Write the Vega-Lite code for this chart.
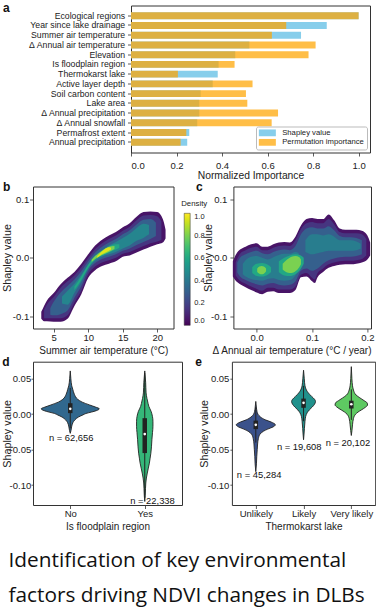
{
"$schema": "https://vega.github.io/schema/vega-lite/v6.json",
"padding": {"left": 0, "top": 1.5, "right": 0, "bottom": 4},
"background": "white",
"config": {
  "font": "Liberation Sans",
  "view": {"stroke": "#333", "strokeWidth": 1},
  "axis": {"domain": false, "grid": false, "tickColor": "#333", "tickSize": 3.5, "tickWidth": 0.8, "labelFontSize": 9.5, "labelColor": "#222", "titleFontSize": 10, "titleFontWeight": "normal", "titleColor": "#222", "labelPadding": 1, "titlePadding": 2},
  "legend": {"labelColor": "#222", "titleColor": "#222"}
},
"resolve": {"scale": {"color": "independent"}},
"columns": 1, "spacing": -1,
"title": {"text": "Identification of key environmental", "subtitle": "factors driving NDVI changes in DLBs", "orient": "bottom", "anchor": "start", "frame": "bounds", "font": "Open Sans", "fontSize": 20.8, "fontWeight": "normal", "color": "#111", "subtitleFont": "Open Sans", "subtitleFontSize": 20.8, "subtitleFontWeight": "normal", "subtitleColor": "#111", "subtitlePadding": 14, "offset": 19.5, "dx": 8},
"datasets": {
"imp": [
{"f":"Ecological regions","shap":1.0,"perm":1.0},
{"f":"Year since lake drainage","shap":0.86,"perm":0.682},
{"f":"Summer air temperature","shap":0.747,"perm":0.619},
{"f":"Δ Annual air temperature","shap":0.52,"perm":0.811},
{"f":"Elevation","shap":0.458,"perm":0.78},
{"f":"Is floodplain region","shap":0.385,"perm":0.455},
{"f":"Thermokarst lake","shap":0.381,"perm":0.206},
{"f":"Active layer depth","shap":0.359,"perm":0.534},
{"f":"Soil carbon content","shap":0.306,"perm":0.505},
{"f":"Lake area","shap":0.3,"perm":0.511},
{"f":"Δ Annual precipitation","shap":0.3,"perm":0.646},
{"f":"Δ Annual snowfall","shap":0.291,"perm":0.618},
{"f":"Permafrost extent","shap":0.256,"perm":0.243},
{"f":"Annual precipitation","shap":0.247,"perm":0.218}
],
"kdeb": [
{"g":"b0","l":0.05,"x":3.2,"lo":-0.104,"hi":-0.092},
{"g":"b0","l":0.05,"x":3.6,"lo":-0.108,"hi":-0.082},
{"g":"b0","l":0.05,"x":4,"lo":-0.108,"hi":-0.073},
{"g":"b0","l":0.05,"x":5,"lo":-0.109,"hi":-0.06},
{"g":"b0","l":0.05,"x":6,"lo":-0.109,"hi":-0.045},
{"g":"b0","l":0.05,"x":7,"lo":-0.104,"hi":-0.034},
{"g":"b0","l":0.05,"x":8,"lo":-0.082,"hi":-0.024},
{"g":"b0","l":0.05,"x":9,"lo":-0.062,"hi":-0.01},
{"g":"b0","l":0.05,"x":10,"lo":-0.034,"hi":0.006},
{"g":"b0","l":0.05,"x":11,"lo":-0.021,"hi":0.021},
{"g":"b0","l":0.05,"x":12,"lo":-0.014,"hi":0.031},
{"g":"b0","l":0.05,"x":13,"lo":-0.01,"hi":0.038},
{"g":"b0","l":0.05,"x":14,"lo":-0.006,"hi":0.044},
{"g":"b0","l":0.05,"x":15,"lo":0.002,"hi":0.052},
{"g":"b0","l":0.05,"x":16,"lo":0.004,"hi":0.059},
{"g":"b0","l":0.05,"x":17,"lo":0.009,"hi":0.07},
{"g":"b0","l":0.05,"x":18,"lo":0.014,"hi":0.078},
{"g":"b0","l":0.05,"x":19,"lo":0.019,"hi":0.079},
{"g":"b0","l":0.05,"x":20,"lo":0.023,"hi":0.078},
{"g":"b0","l":0.05,"x":20.8,"lo":0.026,"hi":0.066},
{"g":"b0","l":0.05,"x":21.2,"lo":0.033,"hi":0.048},
{"g":"b1","l":0.15,"x":3.6,"lo":-0.103,"hi":-0.089},
{"g":"b1","l":0.15,"x":4,"lo":-0.103,"hi":-0.08},
{"g":"b1","l":0.15,"x":5,"lo":-0.103,"hi":-0.067},
{"g":"b1","l":0.15,"x":6,"lo":-0.103,"hi":-0.051},
{"g":"b1","l":0.15,"x":7,"lo":-0.098,"hi":-0.04},
{"g":"b1","l":0.15,"x":8,"lo":-0.076,"hi":-0.03},
{"g":"b1","l":0.15,"x":9,"lo":-0.056,"hi":-0.016},
{"g":"b1","l":0.15,"x":10,"lo":-0.028,"hi":0.0},
{"g":"b1","l":0.15,"x":11,"lo":-0.015,"hi":0.015},
{"g":"b1","l":0.15,"x":12,"lo":-0.008,"hi":0.025},
{"g":"b1","l":0.15,"x":13,"lo":-0.004,"hi":0.032},
{"g":"b1","l":0.15,"x":14,"lo":0.0,"hi":0.038},
{"g":"b1","l":0.15,"x":15,"lo":0.007,"hi":0.046},
{"g":"b1","l":0.15,"x":16,"lo":0.01,"hi":0.053},
{"g":"b1","l":0.15,"x":17,"lo":0.015,"hi":0.064},
{"g":"b1","l":0.15,"x":18,"lo":0.02,"hi":0.072},
{"g":"b1","l":0.15,"x":19,"lo":0.025,"hi":0.073},
{"g":"b1","l":0.15,"x":20,"lo":0.028,"hi":0.071},
{"g":"b1","l":0.15,"x":20.6,"lo":0.031,"hi":0.062},
{"g":"b2","l":0.3,"x":4.5,"lo":-0.097,"hi":-0.086},
{"g":"b2","l":0.3,"x":5,"lo":-0.098,"hi":-0.075},
{"g":"b2","l":0.3,"x":6,"lo":-0.096,"hi":-0.059},
{"g":"b2","l":0.3,"x":7,"lo":-0.09,"hi":-0.048},
{"g":"b2","l":0.3,"x":8,"lo":-0.068,"hi":-0.037},
{"g":"b2","l":0.3,"x":9,"lo":-0.048,"hi":-0.023},
{"g":"b2","l":0.3,"x":10,"lo":-0.022,"hi":-0.006},
{"g":"b2","l":0.3,"x":11,"lo":-0.009,"hi":0.009},
{"g":"b2","l":0.3,"x":12,"lo":-0.002,"hi":0.019},
{"g":"b2","l":0.3,"x":13,"lo":0.002,"hi":0.026},
{"g":"b2","l":0.3,"x":14,"lo":0.006,"hi":0.032},
{"g":"b2","l":0.3,"x":15,"lo":0.012,"hi":0.04},
{"g":"b2","l":0.3,"x":16,"lo":0.016,"hi":0.047},
{"g":"b2","l":0.3,"x":17,"lo":0.022,"hi":0.057},
{"g":"b2","l":0.3,"x":18,"lo":0.027,"hi":0.065},
{"g":"b2","l":0.3,"x":19,"lo":0.032,"hi":0.066},
{"g":"b2","l":0.3,"x":19.8,"lo":0.037,"hi":0.06},
{"g":"b3","l":0.45,"x":6.2,"lo":-0.078,"hi":-0.066},
{"g":"b3","l":0.45,"x":7,"lo":-0.08,"hi":-0.056},
{"g":"b3","l":0.45,"x":8,"lo":-0.06,"hi":-0.044},
{"g":"b3","l":0.45,"x":9,"lo":-0.041,"hi":-0.029},
{"g":"b3","l":0.45,"x":10,"lo":-0.018,"hi":-0.011},
{"g":"b3","l":0.45,"x":11,"lo":-0.005,"hi":0.004},
{"g":"b3","l":0.45,"x":12,"lo":0.002,"hi":0.013},
{"g":"b3","l":0.45,"x":13,"lo":0.006,"hi":0.021},
{"g":"b3","l":0.45,"x":14,"lo":0.01,"hi":0.027},
{"g":"b3","l":0.45,"x":15,"lo":0.016,"hi":0.034},
{"g":"b3","l":0.45,"x":16,"lo":0.021,"hi":0.041},
{"g":"b3","l":0.45,"x":17,"lo":0.029,"hi":0.051},
{"g":"b3","l":0.45,"x":18,"lo":0.034,"hi":0.058},
{"g":"b3","l":0.45,"x":18.8,"lo":0.04,"hi":0.056},
{"g":"b4","l":0.6,"x":8,"lo":-0.055,"hi":-0.049},
{"g":"b4","l":0.6,"x":9,"lo":-0.038,"hi":-0.032},
{"g":"b4","l":0.6,"x":10,"lo":-0.017,"hi":-0.012},
{"g":"b4","l":0.6,"x":11,"lo":-0.003,"hi":0.003},
{"g":"b4","l":0.6,"x":12,"lo":0.004,"hi":0.012},
{"g":"b4","l":0.6,"x":13,"lo":0.009,"hi":0.019},
{"g":"b4","l":0.6,"x":14,"lo":0.014,"hi":0.023},
{"g":"b4","l":0.6,"x":14.5,"lo":0.017,"hi":0.023},
{"g":"b5","l":0.8,"x":10.5,"lo":-0.007,"hi":-0.003},
{"g":"b5","l":0.8,"x":11,"lo":-0.002,"hi":0.003},
{"g":"b5","l":0.8,"x":12,"lo":0.005,"hi":0.012},
{"g":"b5","l":0.8,"x":13,"lo":0.01,"hi":0.019},
{"g":"b5","l":0.8,"x":13.8,"lo":0.015,"hi":0.02},
{"g":"b6","l":0.95,"x":11.3,"lo":0.0,"hi":0.003},
{"g":"b6","l":0.95,"x":12,"lo":0.006,"hi":0.011},
{"g":"b6","l":0.95,"x":13,"lo":0.012,"hi":0.018},
{"g":"b6","l":0.95,"x":13.3,"lo":0.014,"hi":0.017}
],
"kdec": [
{"g":"c0","l":0.05,"x":-0.043,"lo":-0.032,"hi":-0.006},
{"g":"c0","l":0.05,"x":-0.036,"lo":-0.041,"hi":0.008},
{"g":"c0","l":0.05,"x":-0.03,"lo":-0.045,"hi":0.014},
{"g":"c0","l":0.05,"x":-0.02,"lo":-0.05,"hi":0.019},
{"g":"c0","l":0.05,"x":-0.01,"lo":-0.055,"hi":0.023},
{"g":"c0","l":0.05,"x":0.0,"lo":-0.059,"hi":0.025},
{"g":"c0","l":0.05,"x":0.01,"lo":-0.062,"hi":0.019},
{"g":"c0","l":0.05,"x":0.02,"lo":-0.058,"hi":0.019},
{"g":"c0","l":0.05,"x":0.03,"lo":-0.057,"hi":0.023},
{"g":"c0","l":0.05,"x":0.04,"lo":-0.06,"hi":0.026},
{"g":"c0","l":0.05,"x":0.05,"lo":-0.06,"hi":0.027},
{"g":"c0","l":0.05,"x":0.06,"lo":-0.06,"hi":0.026},
{"g":"c0","l":0.05,"x":0.07,"lo":-0.055,"hi":0.036},
{"g":"c0","l":0.05,"x":0.08,"lo":-0.033,"hi":0.055},
{"g":"c0","l":0.05,"x":0.09,"lo":-0.032,"hi":0.066},
{"g":"c0","l":0.05,"x":0.1,"lo":-0.04,"hi":0.068},
{"g":"c0","l":0.05,"x":0.105,"lo":-0.043,"hi":0.067},
{"g":"c0","l":0.05,"x":0.11,"lo":-0.033,"hi":0.066},
{"g":"c0","l":0.05,"x":0.12,"lo":-0.024,"hi":0.066},
{"g":"c0","l":0.05,"x":0.13,"lo":-0.017,"hi":0.074},
{"g":"c0","l":0.05,"x":0.14,"lo":-0.014,"hi":0.064},
{"g":"c0","l":0.05,"x":0.15,"lo":-0.012,"hi":0.05},
{"g":"c0","l":0.05,"x":0.16,"lo":-0.011,"hi":0.048},
{"g":"c0","l":0.05,"x":0.17,"lo":-0.011,"hi":0.048},
{"g":"c0","l":0.05,"x":0.18,"lo":-0.01,"hi":0.048},
{"g":"c0","l":0.05,"x":0.19,"lo":-0.008,"hi":0.046},
{"g":"c0","l":0.05,"x":0.2,"lo":-0.003,"hi":0.038},
{"g":"c0","l":0.05,"x":0.205,"lo":0.004,"hi":0.026},
{"g":"c1","l":0.15,"x":-0.038,"lo":-0.03,"hi":-0.008},
{"g":"c1","l":0.15,"x":-0.03,"lo":-0.039,"hi":0.007},
{"g":"c1","l":0.15,"x":-0.02,"lo":-0.044,"hi":0.013},
{"g":"c1","l":0.15,"x":-0.01,"lo":-0.049,"hi":0.017},
{"g":"c1","l":0.15,"x":0.0,"lo":-0.053,"hi":0.019},
{"g":"c1","l":0.15,"x":0.01,"lo":-0.056,"hi":0.013},
{"g":"c1","l":0.15,"x":0.02,"lo":-0.051,"hi":0.013},
{"g":"c1","l":0.15,"x":0.03,"lo":-0.051,"hi":0.017},
{"g":"c1","l":0.15,"x":0.04,"lo":-0.054,"hi":0.02},
{"g":"c1","l":0.15,"x":0.05,"lo":-0.054,"hi":0.021},
{"g":"c1","l":0.15,"x":0.06,"lo":-0.054,"hi":0.02},
{"g":"c1","l":0.15,"x":0.07,"lo":-0.049,"hi":0.03},
{"g":"c1","l":0.15,"x":0.08,"lo":-0.029,"hi":0.049},
{"g":"c1","l":0.15,"x":0.09,"lo":-0.026,"hi":0.059},
{"g":"c1","l":0.15,"x":0.1,"lo":-0.034,"hi":0.061},
{"g":"c1","l":0.15,"x":0.105,"lo":-0.037,"hi":0.06},
{"g":"c1","l":0.15,"x":0.11,"lo":-0.026,"hi":0.059},
{"g":"c1","l":0.15,"x":0.12,"lo":-0.018,"hi":0.059},
{"g":"c1","l":0.15,"x":0.13,"lo":-0.011,"hi":0.066},
{"g":"c1","l":0.15,"x":0.14,"lo":-0.008,"hi":0.057},
{"g":"c1","l":0.15,"x":0.15,"lo":-0.006,"hi":0.044},
{"g":"c1","l":0.15,"x":0.16,"lo":-0.005,"hi":0.042},
{"g":"c1","l":0.15,"x":0.17,"lo":-0.005,"hi":0.042},
{"g":"c1","l":0.15,"x":0.18,"lo":-0.004,"hi":0.042},
{"g":"c1","l":0.15,"x":0.19,"lo":-0.002,"hi":0.04},
{"g":"c1","l":0.15,"x":0.198,"lo":0.004,"hi":0.032},
{"g":"c2","l":0.3,"x":-0.035,"lo":-0.025,"hi":-0.008},
{"g":"c2","l":0.3,"x":-0.03,"lo":-0.032,"hi":0.0},
{"g":"c2","l":0.3,"x":-0.02,"lo":-0.038,"hi":0.006},
{"g":"c2","l":0.3,"x":-0.01,"lo":-0.042,"hi":0.01},
{"g":"c2","l":0.3,"x":0.0,"lo":-0.045,"hi":0.012},
{"g":"c2","l":0.3,"x":0.01,"lo":-0.047,"hi":0.008},
{"g":"c2","l":0.3,"x":0.02,"lo":-0.044,"hi":0.006},
{"g":"c2","l":0.3,"x":0.03,"lo":-0.043,"hi":0.01},
{"g":"c2","l":0.3,"x":0.04,"lo":-0.046,"hi":0.013},
{"g":"c2","l":0.3,"x":0.05,"lo":-0.047,"hi":0.014},
{"g":"c2","l":0.3,"x":0.06,"lo":-0.046,"hi":0.013},
{"g":"c2","l":0.3,"x":0.07,"lo":-0.04,"hi":0.02},
{"g":"c2","l":0.3,"x":0.08,"lo":-0.022,"hi":0.04},
{"g":"c2","l":0.3,"x":0.09,"lo":-0.018,"hi":0.05},
{"g":"c2","l":0.3,"x":0.1,"lo":-0.022,"hi":0.052},
{"g":"c2","l":0.3,"x":0.11,"lo":-0.018,"hi":0.05},
{"g":"c2","l":0.3,"x":0.12,"lo":-0.01,"hi":0.05},
{"g":"c2","l":0.3,"x":0.13,"lo":-0.004,"hi":0.054},
{"g":"c2","l":0.3,"x":0.14,"lo":-0.001,"hi":0.047},
{"g":"c2","l":0.3,"x":0.15,"lo":0.001,"hi":0.037},
{"g":"c2","l":0.3,"x":0.16,"lo":0.002,"hi":0.035},
{"g":"c2","l":0.3,"x":0.17,"lo":0.002,"hi":0.035},
{"g":"c2","l":0.3,"x":0.18,"lo":0.003,"hi":0.034},
{"g":"c2","l":0.3,"x":0.19,"lo":0.006,"hi":0.03},
{"g":"c3a","l":0.42,"x":-0.025,"lo":-0.028,"hi":-0.01},
{"g":"c3a","l":0.42,"x":-0.02,"lo":-0.032,"hi":-0.004},
{"g":"c3a","l":0.42,"x":-0.01,"lo":-0.036,"hi":0.002},
{"g":"c3a","l":0.42,"x":0.0,"lo":-0.038,"hi":0.003},
{"g":"c3a","l":0.42,"x":0.01,"lo":-0.039,"hi":0.0},
{"g":"c3a","l":0.42,"x":0.02,"lo":-0.036,"hi":-0.003},
{"g":"c3a","l":0.42,"x":0.03,"lo":-0.035,"hi":0.001},
{"g":"c3a","l":0.42,"x":0.04,"lo":-0.038,"hi":0.005},
{"g":"c3a","l":0.42,"x":0.05,"lo":-0.039,"hi":0.007},
{"g":"c3a","l":0.42,"x":0.06,"lo":-0.038,"hi":0.007},
{"g":"c3a","l":0.42,"x":0.07,"lo":-0.03,"hi":0.01},
{"g":"c3a","l":0.42,"x":0.076,"lo":-0.02,"hi":0.008},
{"g":"c3b","l":0.42,"x":0.088,"lo":0.01,"hi":0.03},
{"g":"c3b","l":0.42,"x":0.1,"lo":0.006,"hi":0.04},
{"g":"c3b","l":0.42,"x":0.11,"lo":0.008,"hi":0.04},
{"g":"c3b","l":0.42,"x":0.12,"lo":0.01,"hi":0.038},
{"g":"c3b","l":0.42,"x":0.13,"lo":0.012,"hi":0.04},
{"g":"c3b","l":0.42,"x":0.14,"lo":0.012,"hi":0.036},
{"g":"c3b","l":0.42,"x":0.15,"lo":0.012,"hi":0.03},
{"g":"c3b","l":0.42,"x":0.16,"lo":0.012,"hi":0.03},
{"g":"c3b","l":0.42,"x":0.17,"lo":0.012,"hi":0.03},
{"g":"c3b","l":0.42,"x":0.18,"lo":0.013,"hi":0.028},
{"g":"c3b","l":0.42,"x":0.188,"lo":0.016,"hi":0.024},
{"g":"c4a","l":0.6,"x":-0.008,"lo":-0.026,"hi":-0.016},
{"g":"c4a","l":0.6,"x":0.0,"lo":-0.031,"hi":-0.01},
{"g":"c4a","l":0.6,"x":0.01,"lo":-0.032,"hi":-0.009},
{"g":"c4a","l":0.6,"x":0.02,"lo":-0.029,"hi":-0.012},
{"g":"c4a","l":0.6,"x":0.026,"lo":-0.024,"hi":-0.016},
{"g":"c4b","l":0.6,"x":0.04,"lo":-0.024,"hi":-0.006},
{"g":"c4b","l":0.6,"x":0.05,"lo":-0.03,"hi":0.0},
{"g":"c4b","l":0.6,"x":0.06,"lo":-0.031,"hi":0.004},
{"g":"c4b","l":0.6,"x":0.07,"lo":-0.028,"hi":0.006},
{"g":"c4b","l":0.6,"x":0.08,"lo":-0.018,"hi":0.004},
{"g":"c4b","l":0.6,"x":0.085,"lo":-0.01,"hi":0.0},
{"g":"c5a","l":0.8,"x":0.001,"lo":-0.024,"hi":-0.018},
{"g":"c5a","l":0.8,"x":0.005,"lo":-0.027,"hi":-0.015},
{"g":"c5a","l":0.8,"x":0.009,"lo":-0.028,"hi":-0.014},
{"g":"c5a","l":0.8,"x":0.013,"lo":-0.027,"hi":-0.015},
{"g":"c5a","l":0.8,"x":0.017,"lo":-0.023,"hi":-0.018},
{"g":"c5b","l":0.8,"x":0.047,"lo":-0.02,"hi":-0.01},
{"g":"c5b","l":0.8,"x":0.055,"lo":-0.025,"hi":-0.003},
{"g":"c5b","l":0.8,"x":0.063,"lo":-0.026,"hi":0.002},
{"g":"c5b","l":0.8,"x":0.07,"lo":-0.023,"hi":0.003},
{"g":"c5b","l":0.8,"x":0.077,"lo":-0.016,"hi":0.001},
{"g":"c5b","l":0.8,"x":0.08,"lo":-0.011,"hi":-0.003}
],
"vd": [
{"c":"No","v":0.061,"w":0},{"c":"No","v":0.05,"w":0.008},{"c":"No","v":0.04,"w":0.02},{"c":"No","v":0.035,"w":0.034},{"c":"No","v":0.028,"w":0.055},{"c":"No","v":0.021,"w":0.1},{"c":"No","v":0.017,"w":0.16},{"c":"No","v":0.013,"w":0.26},{"c":"No","v":0.01,"w":0.34},{"c":"No","v":0.0076,"w":0.39},{"c":"No","v":0.005,"w":0.35},{"c":"No","v":0.003,"w":0.285},{"c":"No","v":0.001,"w":0.21},{"c":"No","v":-0.001,"w":0.17},{"c":"No","v":-0.004,"w":0.11},{"c":"No","v":-0.008,"w":0.062},{"c":"No","v":-0.012,"w":0.035},{"c":"No","v":-0.018,"w":0.018},{"c":"No","v":-0.023,"w":0.01},{"c":"No","v":-0.027,"w":0},
{"c":"Yes","v":0.061,"w":0},{"c":"Yes","v":0.045,"w":0.012},{"c":"Yes","v":0.03,"w":0.018},{"c":"Yes","v":0.022,"w":0.03},{"c":"Yes","v":0.015,"w":0.045},{"c":"Yes","v":0.011,"w":0.055},{"c":"Yes","v":0.004,"w":0.085},{"c":"Yes","v":-0.003,"w":0.103},{"c":"Yes","v":-0.01,"w":0.11},{"c":"Yes","v":-0.017,"w":0.11},{"c":"Yes","v":-0.026,"w":0.104},{"c":"Yes","v":-0.036,"w":0.096},{"c":"Yes","v":-0.046,"w":0.09},{"c":"Yes","v":-0.055,"w":0.082},{"c":"Yes","v":-0.062,"w":0.072},{"c":"Yes","v":-0.069,"w":0.062},{"c":"Yes","v":-0.076,"w":0.048},{"c":"Yes","v":-0.083,"w":0.034},{"c":"Yes","v":-0.09,"w":0.022},{"c":"Yes","v":-0.097,"w":0.014},{"c":"Yes","v":-0.105,"w":0.01},{"c":"Yes","v":-0.115,"w":0.006},{"c":"Yes","v":-0.123,"w":0}
],
"ve": [
{"c":"Unlikely","v":0.018,"w":0},{"c":"Unlikely","v":0.01,"w":0.012},{"c":"Unlikely","v":0.004,"w":0.025},{"c":"Unlikely","v":0.0,"w":0.045},{"c":"Unlikely","v":-0.004,"w":0.1},{"c":"Unlikely","v":-0.008,"w":0.2},{"c":"Unlikely","v":-0.011,"w":0.32},{"c":"Unlikely","v":-0.015,"w":0.41},{"c":"Unlikely","v":-0.018,"w":0.36},{"c":"Unlikely","v":-0.021,"w":0.25},{"c":"Unlikely","v":-0.024,"w":0.16},{"c":"Unlikely","v":-0.028,"w":0.09},{"c":"Unlikely","v":-0.034,"w":0.055},{"c":"Unlikely","v":-0.042,"w":0.038},{"c":"Unlikely","v":-0.05,"w":0.03},{"c":"Unlikely","v":-0.06,"w":0.02},{"c":"Unlikely","v":-0.07,"w":0.014},{"c":"Unlikely","v":-0.081,"w":0},
{"c":"Likely","v":0.062,"w":0},{"c":"Likely","v":0.05,"w":0.015},{"c":"Likely","v":0.04,"w":0.03},{"c":"Likely","v":0.034,"w":0.06},{"c":"Likely","v":0.03,"w":0.1},{"c":"Likely","v":0.025,"w":0.17},{"c":"Likely","v":0.021,"w":0.23},{"c":"Likely","v":0.018,"w":0.25},{"c":"Likely","v":0.014,"w":0.23},{"c":"Likely","v":0.01,"w":0.18},{"c":"Likely","v":0.006,"w":0.12},{"c":"Likely","v":0.002,"w":0.075},{"c":"Likely","v":-0.003,"w":0.045},{"c":"Likely","v":-0.01,"w":0.03},{"c":"Likely","v":-0.02,"w":0.018},{"c":"Likely","v":-0.028,"w":0.01},{"c":"Likely","v":-0.036,"w":0},
{"c":"Very likely","v":0.067,"w":0},{"c":"Very likely","v":0.05,"w":0.012},{"c":"Very likely","v":0.04,"w":0.025},{"c":"Very likely","v":0.034,"w":0.045},{"c":"Very likely","v":0.027,"w":0.1},{"c":"Very likely","v":0.023,"w":0.18},{"c":"Very likely","v":0.019,"w":0.27},{"c":"Very likely","v":0.016,"w":0.33},{"c":"Very likely","v":0.013,"w":0.34},{"c":"Very likely","v":0.01,"w":0.3},{"c":"Very likely","v":0.006,"w":0.21},{"c":"Very likely","v":0.003,"w":0.14},{"c":"Very likely","v":0.0,"w":0.09},{"c":"Very likely","v":-0.006,"w":0.045},{"c":"Very likely","v":-0.015,"w":0.025},{"c":"Very likely","v":-0.023,"w":0.013},{"c":"Very likely","v":-0.03,"w":0}
],
"bd": [
{"c":"No","wlo":-0.02,"whi":0.037,"q1":0.0015,"q3":0.0155,"med":0.0076},
{"c":"Yes","wlo":-0.118,"whi":0.058,"q1":-0.0548,"q3":-0.0056,"med":-0.028}
],
"be": [
{"c":"Unlikely","wlo":-0.04,"whi":0.01,"q1":-0.021,"q3":-0.009,"med":-0.015},
{"c":"Likely","wlo":-0.01,"whi":0.04,"q1":0.009,"q3":0.022,"med":0.016},
{"c":"Very likely","wlo":-0.008,"whi":0.035,"q1":0.008,"q3":0.019,"med":0.014}
],
"nd": [
{"t":"n = 62,656","x":0.013,"y":-0.0336},
{"t":"n = 22,338","x":1.104,"y":-0.1225}
],
"ne": [
{"t":"n = 45,284","x":0.07,"y":-0.086},
{"t":"n = 19,608","x":0.91,"y":-0.046},
{"t":"n = 20,102","x":1.93,"y":-0.041}
]
},
"concat": [
{
 "hconcat": [
  {
   "width": 92.2, "height": 147,
   "view": {"stroke": null},
   "data": {"name": "imp"},
   "layer": [
    {"mark": {"type": "text", "align": "right", "baseline": "middle", "fontSize": 8.7, "color": "#222"},
     "encoding": {
      "y": {"field": "f", "type": "nominal", "sort": null, "scale": {"type": "band", "paddingInner": 0.29, "paddingOuter": 0.7}, "axis": null},
      "x": {"datum": 1, "type": "quantitative", "scale": {"domain": [0, 1], "nice": false}, "axis": null},
      "text": {"field": "f"}}},
    {"data": {"values": [{"p": "a"}]},
     "mark": {"type": "text", "fontSize": 12, "fontWeight": "bold", "color": "#111", "align": "left", "baseline": "alphabetic"},
     "encoding": {"text": {"field": "p"}, "x": {"datum": -0.326}, "y": {"datum": "Ecological regions", "type": "nominal", "bandPosition": 0}}}
   ]
  },
  {
   "width": 239, "height": 147,
   "data": {"name": "imp"},
   "encoding": {"y": {"field": "f", "type": "nominal", "sort": null, "scale": {"type": "band", "paddingInner": 0.29, "paddingOuter": 0.7}, "axis": {"title": null, "labels": false}}},
   "layer": [
    {"mark": {"type": "bar"}, "encoding": {
      "x": {"field": "shap", "type": "quantitative", "scale": {"domain": [0, 1.05], "nice": false}, "axis": {"values": [0, 0.2, 0.4, 0.6, 0.8, 1], "format": ".1f", "title": "Normalized Importance", "labelPadding": 4.5, "titlePadding": 0, "titleFontSize": 10.3}},
      "color": {"datum": "Shapley value", "type": "nominal", "scale": {"domain": ["Shapley value", "Permutation importance"], "range": ["#87CEEB", "rgba(255,165,0,0.72)"]},
        "legend": {"title": null, "orient": "bottom-right", "offset": 3, "fillColor": "white", "strokeColor": "#bbb", "cornerRadius": 2, "padding": 2.5, "labelFontSize": 7.7, "symbolType": "M-1,-0.97H3.86V0.97H-1Z", "symbolSize": 49, "symbolStrokeWidth": 0, "rowPadding": 0.5, "labelOffset": 16}}}},
    {"mark": {"type": "bar"}, "encoding": {
      "x": {"field": "perm", "type": "quantitative"},
      "color": {"datum": "Permutation importance", "type": "nominal"}}}
   ]
  }
 ],
 "spacing": 5, "bounds": "flush",
 "resolve": {"scale": {"color": "independent"}, "legend": {"color": "independent"}}
},
{
 "columns": 1, "spacing": -1.8,
 "resolve": {"scale": {"color": "independent"}},
 "concat": [
 {
 "hconcat": [
  {
   "width": 140.5, "height": 142,
   "layer": [
    {"data": {"name": "kdeb"},
     "mark": {"type": "area", "interpolate": "monotone"},
     "encoding": {
      "x": {"field": "x", "type": "quantitative", "scale": {"domain": [2.0, 22.35], "nice": false, "zero": false}, "axis": {"values": [5, 10, 15, 20], "title": "Summer air temperature (°C)", "labelPadding": 0.1, "titlePadding": 4}},
      "y": {"field": "lo", "type": "quantitative", "scale": {"domain": [-0.1205, 0.1216], "nice": false, "zero": false}, "axis": {"values": [-0.1, -0.05, 0, 0.05, 0.1], "labelExpr": "abs(datum.value) == 0.05 ? '' : replace(format(datum.value, '.1f'), '\u2212', '-')", "title": "Shapley value", "titleFontSize": 10.8, "labelPadding": 0.8, "titlePadding": 0.3}},
      "y2": {"field": "hi"},
      "color": {"field": "l", "type": "quantitative", "scale": {"scheme": "viridis", "domain": [0, 1]},
        "legend": {"title": "Density", "orient": "none", "legendX": 148.2, "legendY": 13, "gradientLength": 112, "gradientThickness": 6, "values": [0, 0.2, 0.4, 0.6, 0.8, 1], "format": ".1f", "labelFontSize": 7.5, "titleFontSize": 7.8, "titleFontWeight": "normal", "titlePadding": 6, "padding": 0, "gradientStrokeColor": "#333", "gradientStrokeWidth": 0.5, "labelOffset": 4, "direction": "vertical", "labelOverlap": false, "titleAnchor": "middle"}},
      "detail": {"field": "g"}
     }},
    {"data": {"values": [{"p": "b"}]},
     "mark": {"type": "text", "fontSize": 12, "fontWeight": "bold", "color": "#111", "align": "left", "baseline": "alphabetic"},
     "encoding": {"text": {"field": "p"}, "x": {"datum": -2.35}, "y": {"datum": 0.1131}}}
   ]
  },
  {
   "width": 137.6, "height": 142,
   "layer": [
    {"data": {"name": "kdec"},
     "mark": {"type": "area", "interpolate": "monotone"},
     "encoding": {
      "x": {"field": "x", "type": "quantitative", "scale": {"domain": [-0.042, 0.2065], "nice": false, "zero": false}, "axis": {"values": [0, 0.05, 0.1, 0.15, 0.2], "labelExpr": "(datum.value == 0.05 || datum.value == 0.15) ? '' : format(datum.value, '.1f')", "title": "Δ Annual air temperature (°C / year)", "titleAnchor": "end", "labelPadding": 0.1, "titlePadding": 4}},
      "y": {"field": "lo", "type": "quantitative", "scale": {"domain": [-0.1205, 0.1216], "nice": false, "zero": false}, "axis": {"values": [-0.1, -0.05, 0, 0.05, 0.1], "labelExpr": "abs(datum.value) == 0.05 ? '' : replace(format(datum.value, '.1f'), '\u2212', '-')", "title": "Shapley value", "titleFontSize": 10.8, "labelPadding": 3, "titlePadding": -3}},
      "y2": {"field": "hi"},
      "color": {"field": "l", "type": "quantitative", "scale": {"scheme": "viridis", "domain": [0, 1]}, "legend": null},
      "detail": {"field": "g"}
     }},
    {"data": {"values": [{"p": "c"}]},
     "mark": {"type": "text", "fontSize": 12, "fontWeight": "bold", "color": "#111", "align": "left", "baseline": "alphabetic"},
     "encoding": {"text": {"field": "p"}, "x": {"datum": -0.1095}, "y": {"datum": 0.1131}}}
   ]
  }
 ],
 "spacing": 59.4, "bounds": "flush",
 "resolve": {"scale": {"color": "independent"}}
 },
 {
 "hconcat": [
  {
   "width": 149, "height": 143.3,
   "layer": [
    {"data": {"name": "vd"},
     "transform": [{"calculate": "indexof(['No','Yes'], datum.c) - datum.w", "as": "lo"}, {"calculate": "indexof(['No','Yes'], datum.c) + datum.w", "as": "hi"}],
     "mark": {"type": "area", "orient": "horizontal", "interpolate": "monotone", "stroke": "#222", "strokeWidth": 0.9},
     "encoding": {
      "y": {"field": "v", "type": "quantitative", "scale": {"domain": [-0.128, 0.074], "nice": false, "zero": false}, "axis": {"values": [-0.1, -0.05, 0, 0.05], "labelExpr": "replace(format(datum.value, '.2f'), '\u2212', '-')", "title": "Shapley value", "titleFontSize": 10.8, "tickSize": 2, "labelPadding": 0.3, "titlePadding": -3}},
      "x": {"field": "lo", "type": "quantitative", "scale": {"domain": [-0.5, 1.5], "nice": false, "zero": false}, "axis": {"values": [0, 1], "labelExpr": "datum.value == 0 ? 'No' : 'Yes'", "title": "Is floodplain region", "labelPadding": 0.1, "titlePadding": 3.1}},
      "x2": {"field": "hi"},
      "color": {"field": "c", "type": "nominal", "scale": {"domain": ["No", "Yes"], "range": ["#31688e", "#35b779"]}, "legend": null},
      "detail": {"field": "c"}
     }},
    {"data": {"name": "bd"},
     "transform": [{"calculate": "indexof(['No','Yes'], datum.c)", "as": "i"}],
     "mark": {"type": "rule", "color": "#222", "strokeWidth": 1},
     "encoding": {"x": {"field": "i", "type": "quantitative"}, "y": {"field": "wlo", "type": "quantitative"}, "y2": {"field": "whi"}}},
    {"data": {"name": "bd"},
     "transform": [{"calculate": "indexof(['No','Yes'], datum.c)", "as": "i"}],
     "mark": {"type": "rule", "color": "#222", "strokeWidth": 4.5},
     "encoding": {"x": {"field": "i", "type": "quantitative"}, "y": {"field": "q1", "type": "quantitative"}, "y2": {"field": "q3"}}},
    {"data": {"name": "bd"},
     "transform": [{"calculate": "indexof(['No','Yes'], datum.c)", "as": "i"}],
     "mark": {"type": "point", "filled": true, "color": "white", "size": 7, "opacity": 1},
     "encoding": {"x": {"field": "i", "type": "quantitative"}, "y": {"field": "med", "type": "quantitative"}}},
    {"data": {"name": "nd"},
     "mark": {"type": "text", "fontSize": 9.4, "color": "#111", "baseline": "middle", "align": "center"},
     "encoding": {"x": {"field": "x", "type": "quantitative"}, "y": {"field": "y", "type": "quantitative"}, "text": {"field": "t"}}},
    {"data": {"values": [{"p": "d"}]},
     "mark": {"type": "text", "fontSize": 12, "fontWeight": "bold", "color": "#111", "align": "left", "baseline": "alphabetic"},
     "encoding": {"text": {"field": "p"}, "x": {"datum": -0.913}, "y": {"datum": 0.0679}}}
   ]
  },
  {
   "width": 143.3, "height": 143.3,
   "layer": [
    {"data": {"name": "ve"},
     "transform": [{"calculate": "indexof(['Unlikely','Likely','Very likely'], datum.c) - datum.w", "as": "lo"}, {"calculate": "indexof(['Unlikely','Likely','Very likely'], datum.c) + datum.w", "as": "hi"}],
     "mark": {"type": "area", "orient": "horizontal", "interpolate": "monotone", "stroke": "#222", "strokeWidth": 0.9},
     "encoding": {
      "y": {"field": "v", "type": "quantitative", "scale": {"domain": [-0.128, 0.074], "nice": false, "zero": false}, "axis": {"values": [-0.1, -0.05, 0, 0.05], "labelExpr": "replace(format(datum.value, '.2f'), '\u2212', '-')", "title": "Shapley value", "titleFontSize": 10.8, "tickSize": 2, "labelPadding": 1, "titlePadding": -2.2}},
      "x": {"field": "lo", "type": "quantitative", "scale": {"domain": [-0.5, 2.5], "nice": false, "zero": false}, "axis": {"values": [0, 1, 2], "labelExpr": "datum.value == 0 ? 'Unlikely' : datum.value == 1 ? 'Likely' : 'Very likely'", "title": "Thermokarst lake", "labelPadding": 0.1, "titlePadding": 3.1}},
      "x2": {"field": "hi"},
      "color": {"field": "c", "type": "nominal", "scale": {"domain": ["Unlikely", "Likely", "Very likely"], "range": ["#3b528b", "#21918c", "#5ec962"]}, "legend": null},
      "detail": {"field": "c"}
     }},
    {"data": {"name": "be"},
     "transform": [{"calculate": "indexof(['Unlikely','Likely','Very likely'], datum.c)", "as": "i"}],
     "mark": {"type": "rule", "color": "#222", "strokeWidth": 1},
     "encoding": {"x": {"field": "i", "type": "quantitative"}, "y": {"field": "wlo", "type": "quantitative"}, "y2": {"field": "whi"}}},
    {"data": {"name": "be"},
     "transform": [{"calculate": "indexof(['Unlikely','Likely','Very likely'], datum.c)", "as": "i"}],
     "mark": {"type": "rule", "color": "#222", "strokeWidth": 4.5},
     "encoding": {"x": {"field": "i", "type": "quantitative"}, "y": {"field": "q1", "type": "quantitative"}, "y2": {"field": "q3"}}},
    {"data": {"name": "be"},
     "transform": [{"calculate": "indexof(['Unlikely','Likely','Very likely'], datum.c)", "as": "i"}],
     "mark": {"type": "point", "filled": true, "color": "white", "size": 7, "opacity": 1},
     "encoding": {"x": {"field": "i", "type": "quantitative"}, "y": {"field": "med", "type": "quantitative"}}},
    {"data": {"name": "ne"},
     "mark": {"type": "text", "fontSize": 9.4, "color": "#111", "baseline": "middle", "align": "center"},
     "encoding": {"x": {"field": "x", "type": "quantitative"}, "y": {"field": "y", "type": "quantitative"}, "text": {"field": "t"}}},
    {"data": {"values": [{"p": "e"}]},
     "mark": {"type": "text", "fontSize": 12, "fontWeight": "bold", "color": "#111", "align": "left", "baseline": "alphabetic"},
     "encoding": {"text": {"field": "p"}, "x": {"datum": -1.268}, "y": {"datum": 0.0679}}}
   ]
  }
 ],
 "spacing": 49.9, "bounds": "flush",
 "resolve": {"scale": {"color": "independent"}}
 }
 ]
}
]
}
